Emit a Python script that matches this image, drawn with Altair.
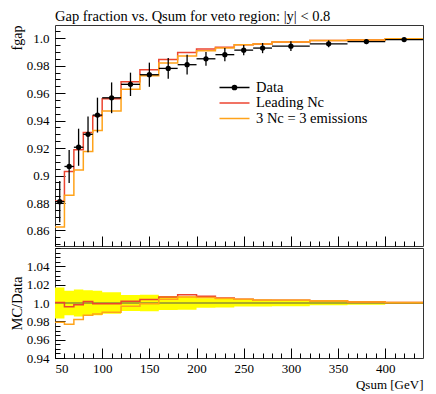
import altair as alt
import pandas as pd

# ---------------- data ----------------
edges = [50, 60, 70, 80, 90, 100, 120, 140, 160, 180, 200, 220, 240, 260, 280, 320, 360, 400, 440]
data_vals = [0.881, 0.9066, 0.9206, 0.930, 0.944, 0.9566, 0.9664, 0.9734, 0.978, 0.9807,
             0.985, 0.988, 0.9913, 0.9928, 0.9942, 0.9959, 0.9975, 0.999]
data_err = [0.015, 0.012, 0.0135, 0.013, 0.0127, 0.0112, 0.0085, 0.0088, 0.0075, 0.0072,
            0.005, 0.0048, 0.0038, 0.0037, 0.0036, 0.0025, 0.0018, 0.001]
lead_vals = [0.8814, 0.9030, 0.9188, 0.9314, 0.9433, 0.9559, 0.9683, 0.9770, 0.9844, 0.9895,
             0.9922, 0.9934, 0.9953, 0.9958, 0.9972, 0.9984, 0.9987, 0.9995]
three_vals = [0.8625, 0.8857, 0.9040, 0.9175, 0.9327, 0.9470, 0.9629, 0.9727, 0.9819, 0.9871,
              0.9909, 0.9929, 0.9953, 0.9958, 0.9972, 0.9984, 0.9987, 0.9995]

legend_labels = ["Data", "Leading Nc", "3 Nc = 3 emissions"]
legend_colors = ["#000000", "#ec4530", "#ffa31a"]
title_text = "Gap fraction vs. Qsum for veto region: |y| < 0.8"
y_title_top = "fgap"
y_title_bottom = "MC/Data"
x_title = "Qsum [GeV]"

x_major = [50, 100, 150, 200, 250, 300, 350, 400]
x_minor = list(range(60, 440, 10))
y_major_top = [0.86, 0.88, 0.9, 0.92, 0.94, 0.96, 0.98, 1.0]
y_minor_top = [round(0.85 + 0.005 * i, 3) for i in range(32)]
y_major_bot = [0.94, 0.96, 0.98, 1.0, 1.02, 1.04]
y_minor_bot = [round(0.94 + 0.005 * i, 3) for i in range(25)]

FONT = "Liberation Serif"
RED = legend_colors[1]
ORANGE = legend_colors[2]

# ---------------- tables ----------------
lo = edges[:-1]
hi = edges[1:]
center = [(a + b) / 2 for a, b in zip(lo, hi)]

pts = pd.DataFrame({
    "lo": lo, "hi": hi, "x": center, "y": data_vals,
    "ylo": [v - e for v, e in zip(data_vals, data_err)],
    "yhi": [v + e for v, e in zip(data_vals, data_err)],
})


def step_df(vals):
    return pd.DataFrame({"x": edges, "y": list(vals) + [vals[-1]]})


lead_step = step_df(lead_vals)
three_step = step_df(three_vals)
rel = [e / v for e, v in zip(data_err, data_vals)]
band = pd.DataFrame({"x": edges,
                     "lo": [1 - r for r in rel] + [1 - rel[-1]],
                     "hi": [1 + r for r in rel] + [1 + rel[-1]]})
data_ratio = step_df([v / v for v in data_vals])
lead_ratio = step_df([m / v for m, v in zip(lead_vals, data_vals)])
three_ratio = step_df([m / v for m, v in zip(three_vals, data_vals)])
legend_df = pd.DataFrame({"series": legend_labels})

# ---------------- scales / axes ----------------
W = 368
H_TOP = 221
H_BOT = 110
xs = alt.Scale(domain=[50, 440], nice=False, zero=False)
ys_top = alt.Scale(domain=[0.8487, 1.0096], nice=False, zero=False)
ys_bot = alt.Scale(domain=[0.94, 1.06], nice=False, zero=False)

common = dict(domain=False, grid=False, tickColor="black", tickWidth=1,
              labelFont=FONT, labelFontSize=13, labelColor="black",
              titleFont=FONT, titleColor="black", titleFontWeight="normal")

ax_x_top_major = alt.Axis(orient="bottom", values=x_major, labels=False, tickSize=10, offset=-10,
                          title=None, **common)
ax_x_top_minor = alt.Axis(orient="bottom", values=x_minor, labels=False, tickSize=5, offset=-5,
                          title=None, **common)
ax_y_top_major = alt.Axis(orient="left", values=y_major_top, tickSize=10, offset=-10, labelPadding=6,
                          labelExpr="datum.value == 1 ? '1.0' : (abs(datum.value - 0.9) < 1e-9 ? '0.9' : format(datum.value, '.2f'))",
                          title=y_title_top, titleAnchor="end", titlePadding=2, titleFontSize=14, **common)
ax_y_top_minor = alt.Axis(orient="left", values=y_minor_top, labels=False, tickSize=5, offset=-5,
                          title=None, **common)

ax_x_bot_major = alt.Axis(orient="bottom", values=x_major, tickSize=10, offset=-10, labelPadding=4,
                          format="d", title=x_title, titleAnchor="end", titlePadding=3, titleFontSize=13,
                          **common)
ax_x_bot_minor = alt.Axis(orient="bottom", values=x_minor, labels=False, tickSize=5, offset=-5,
                          title=None, **common)
ax_y_bot_major = alt.Axis(orient="left", values=y_major_bot, tickSize=10, offset=-10, labelPadding=6,
                          labelExpr="datum.value == 1 ? '1.0' : format(datum.value, '.2f')",
                          title=y_title_bottom, titlePadding=2, titleFontSize=14.5, **common)
ax_y_bot_minor = alt.Axis(orient="left", values=y_minor_bot, labels=False, tickSize=5, offset=-5,
                          title=None, **common)

# ---------------- top panel ----------------
red_line = alt.Chart(lead_step).mark_line(interpolate="step-after", color=RED, strokeWidth=1.5).encode(
    x=alt.X("x:Q", scale=xs, axis=ax_x_top_major),
    y=alt.Y("y:Q", scale=ys_top, axis=ax_y_top_major),
)
orange_line = alt.Chart(three_step).mark_line(interpolate="step-after", color=ORANGE, strokeWidth=1.5).encode(
    x=alt.X("x:Q", scale=xs, axis=ax_x_top_minor),
    y=alt.Y("y:Q", scale=ys_top, axis=ax_y_top_minor),
)
xerr = alt.Chart(pts).mark_rule(color="black", strokeWidth=1.3).encode(
    x=alt.X("lo:Q", scale=xs, axis=None), x2="hi:Q",
    y=alt.Y("y:Q", scale=ys_top, axis=None),
)
yerr = alt.Chart(pts).mark_rule(color="black", strokeWidth=1.3).encode(
    x=alt.X("x:Q", scale=xs, axis=None),
    y=alt.Y("ylo:Q", scale=ys_top, axis=None), y2="yhi:Q",
)
dots = alt.Chart(pts).mark_circle(color="black", size=28, opacity=1).encode(
    x=alt.X("x:Q", scale=xs, axis=None),
    y=alt.Y("y:Q", scale=ys_top, axis=None),
)
# symbol size 225 -> unit radius 7.5px, path spans +-2 units = 30px line
line_path = "M-2,0H2"
dot_path = ("M-2,0H2M-0.28,0A0.28,0.28,0,1,1,0.28,0A0.28,0.28,0,1,1,-0.28,0"
            "M-0.14,0A0.14,0.14,0,1,1,0.14,0A0.14,0.14,0,1,1,-0.14,0")
leg = alt.Legend(orient="none", legendX=171, legendY=54, title=None, symbolSize=225,
                 symbolStrokeWidth=1.5, symbolOpacity=1, labelFont=FONT, labelFontSize=14.5,
                 labelColor="black", labelOffset=13, rowPadding=0.5)
legend_layer = alt.Chart(legend_df).mark_point(filled=False, opacity=0).encode(
    color=alt.Color("series:N", scale=alt.Scale(domain=legend_labels, range=legend_colors), legend=leg),
    shape=alt.Shape("series:N", scale=alt.Scale(domain=legend_labels, range=[dot_path, line_path, line_path]),
                    legend=leg),
)

top = alt.layer(red_line, orange_line, xerr, yerr, dots, legend_layer).resolve_axis(
    x="independent", y="independent"
).properties(
    width=W, height=H_TOP,
    title=alt.TitleParams(title_text, anchor="start", frame="group", font=FONT, fontSize=14.5,
                          fontWeight="normal", color="black", offset=1),
)

# ---------------- ratio panel ----------------
band_area = alt.Chart(band).mark_area(interpolate="step-after", color="#ffff00", opacity=1).encode(
    x=alt.X("x:Q", scale=xs, axis=ax_x_bot_major),
    y=alt.Y("lo:Q", scale=ys_bot, axis=ax_y_bot_major), y2="hi:Q",
)
unit_line = alt.Chart(data_ratio).mark_line(interpolate="step-after", color="#8f8f35", strokeWidth=1.5).encode(
    x=alt.X("x:Q", scale=xs, axis=ax_x_bot_minor),
    y=alt.Y("y:Q", scale=ys_bot, axis=ax_y_bot_minor),
)
red_ratio = alt.Chart(lead_ratio).mark_line(interpolate="step-after", color=RED, strokeWidth=1.5).encode(
    x=alt.X("x:Q", scale=xs, axis=None),
    y=alt.Y("y:Q", scale=ys_bot, axis=None),
)
orange_ratio = alt.Chart(three_ratio).mark_line(interpolate="step-after", color=ORANGE, strokeWidth=1.5).encode(
    x=alt.X("x:Q", scale=xs, axis=None),
    y=alt.Y("y:Q", scale=ys_bot, axis=None),
)
bottom = alt.layer(band_area, unit_line, red_ratio, orange_ratio).resolve_axis(
    x="independent", y="independent"
).properties(width=W, height=H_BOT)

chart = alt.vconcat(top, bottom, spacing=0).properties(
    padding=0
).configure(
    background="white", font=FONT
).configure_axis(
    labelFont=FONT, titleFont=FONT
).configure_legend(
    labelFont=FONT
).configure_title(
    font=FONT
).configure_view(
    stroke="#333333", strokeWidth=1
)

chart.save("out.html", embed_options={"renderer": "svg", "actions": False})
